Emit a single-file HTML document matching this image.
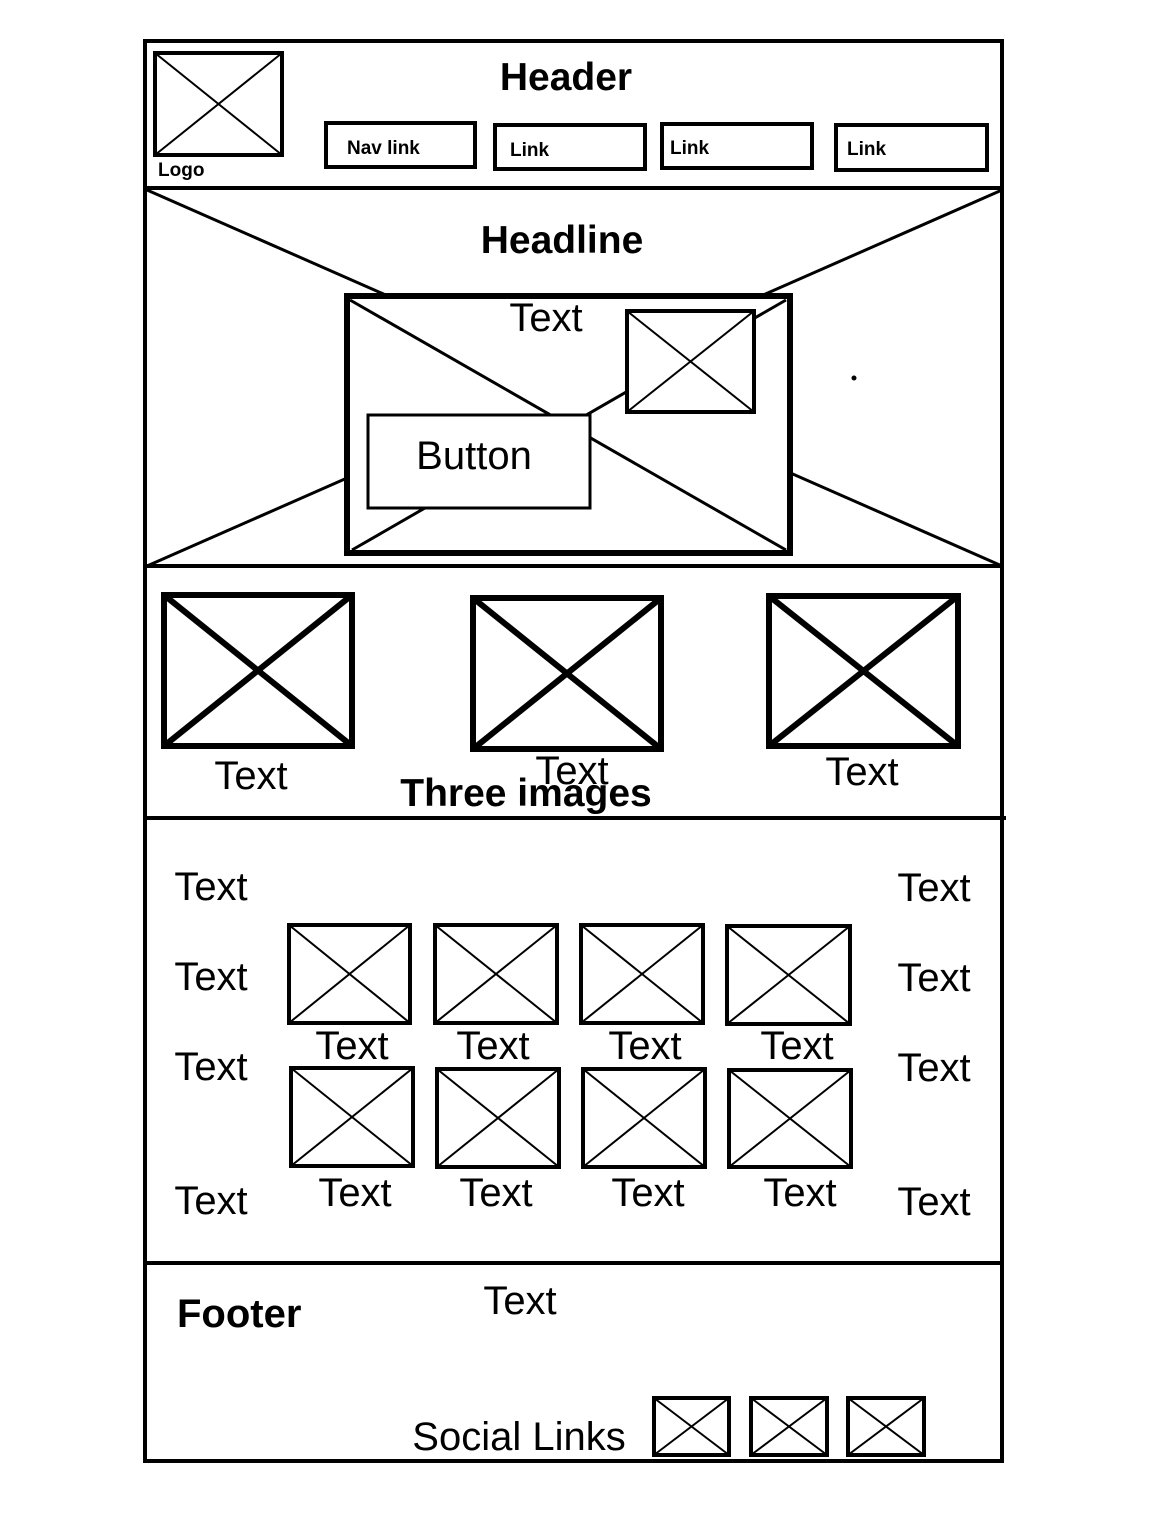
<!DOCTYPE html>
<html><head><meta charset="utf-8"><style>
html,body{margin:0;padding:0;background:#fff;}
svg{display:block;}
text{font-family:"Liberation Sans",Arial,sans-serif;fill:#000;}
</style></head><body>
<svg width="1164" height="1518" viewBox="0 0 1164 1518" xmlns="http://www.w3.org/2000/svg">
<rect x="0" y="0" width="1164" height="1518" fill="#fff"/>
<g fill="none" stroke="#000">
<rect x="145" y="41" width="857" height="1420" stroke-width="4"/>
<line x1="145" y1="188" x2="1004" y2="188" stroke-width="4"/>
<line x1="145" y1="566" x2="1004" y2="566" stroke-width="4"/>
<line x1="145" y1="818" x2="1006" y2="818" stroke-width="4"/>
<line x1="145" y1="1263" x2="1002" y2="1263" stroke-width="4"/>
<rect x="155" y="53" width="127" height="102" stroke-width="4"/>
<line x1="155" y1="53" x2="282" y2="155" stroke-width="2"/>
<line x1="282" y1="53" x2="155" y2="155" stroke-width="2"/>
<rect x="326" y="123" width="149" height="44" stroke-width="4"/>
<rect x="495" y="125" width="150" height="44" stroke-width="4"/>
<rect x="662" y="124" width="150" height="44" stroke-width="4"/>
<rect x="836" y="125" width="151" height="45" stroke-width="4"/>
<line x1="147" y1="190" x2="1002" y2="566" stroke-width="3"/>
<line x1="1002" y1="190" x2="147" y2="566" stroke-width="3"/>
<rect x="347" y="296" width="443" height="257" stroke-width="6" fill="#fff"/>
<line x1="350" y1="300" x2="786" y2="550" stroke-width="3"/>
<line x1="786" y1="300" x2="352" y2="550" stroke-width="3"/>
<rect x="627" y="311" width="127" height="101" stroke-width="4" fill="#fff"/>
<line x1="627" y1="311" x2="754" y2="412" stroke-width="2"/>
<line x1="754" y1="311" x2="627" y2="412" stroke-width="2"/>
<rect x="368" y="415" width="222" height="93" stroke-width="3" fill="#fff"/>
<g stroke-width="6">
<rect x="164" y="595" width="188" height="151"/>
<line x1="164" y1="595" x2="352" y2="746"/><line x1="352" y1="595" x2="164" y2="746"/>
<rect x="473" y="598" width="188" height="151"/>
<line x1="473" y1="598" x2="661" y2="749"/><line x1="661" y1="598" x2="473" y2="749"/>
<rect x="769" y="596" width="189" height="150"/>
<line x1="769" y1="596" x2="958" y2="746"/><line x1="958" y1="596" x2="769" y2="746"/>
</g>
<g stroke-width="4">
<rect x="289" y="925" width="121" height="98"/><line x1="289" y1="925" x2="410" y2="1023" stroke-width="2"/><line x1="410" y1="925" x2="289" y2="1023" stroke-width="2"/>
<rect x="435" y="925" width="122" height="98"/><line x1="435" y1="925" x2="557" y2="1023" stroke-width="2"/><line x1="557" y1="925" x2="435" y2="1023" stroke-width="2"/>
<rect x="581" y="925" width="122" height="98"/><line x1="581" y1="925" x2="703" y2="1023" stroke-width="2"/><line x1="703" y1="925" x2="581" y2="1023" stroke-width="2"/>
<rect x="727" y="926" width="123" height="98"/><line x1="727" y1="926" x2="850" y2="1024" stroke-width="2"/><line x1="850" y1="926" x2="727" y2="1024" stroke-width="2"/>
<rect x="291" y="1068" width="122" height="98"/><line x1="291" y1="1068" x2="413" y2="1166" stroke-width="2"/><line x1="413" y1="1068" x2="291" y2="1166" stroke-width="2"/>
<rect x="437" y="1069" width="122" height="98"/><line x1="437" y1="1069" x2="559" y2="1167" stroke-width="2"/><line x1="559" y1="1069" x2="437" y2="1167" stroke-width="2"/>
<rect x="583" y="1069" width="122" height="98"/><line x1="583" y1="1069" x2="705" y2="1167" stroke-width="2"/><line x1="705" y1="1069" x2="583" y2="1167" stroke-width="2"/>
<rect x="729" y="1070" width="122" height="97"/><line x1="729" y1="1070" x2="851" y2="1167" stroke-width="2"/><line x1="851" y1="1070" x2="729" y2="1167" stroke-width="2"/>
</g>
<g stroke-width="4">
<rect x="654" y="1398" width="75" height="57"/><line x1="654" y1="1398" x2="729" y2="1455" stroke-width="2"/><line x1="729" y1="1398" x2="654" y2="1455" stroke-width="2"/>
<rect x="751" y="1398" width="76" height="57"/><line x1="751" y1="1398" x2="827" y2="1455" stroke-width="2"/><line x1="827" y1="1398" x2="751" y2="1455" stroke-width="2"/>
<rect x="848" y="1398" width="76" height="57"/><line x1="848" y1="1398" x2="924" y2="1455" stroke-width="2"/><line x1="924" y1="1398" x2="848" y2="1455" stroke-width="2"/>
</g>
</g>
<circle cx="854" cy="378" r="2.5" fill="#000"/>
<g font-weight="bold">
<text x="158" y="176" font-size="19">Logo</text>
<text x="566" y="90" font-size="39" text-anchor="middle">Header</text>
<text x="347" y="154" font-size="19">Nav link</text>
<text x="510" y="156" font-size="19">Link</text>
<text x="670" y="154" font-size="19">Link</text>
<text x="847" y="155" font-size="19">Link</text>
<text x="562" y="253" font-size="39" text-anchor="middle">Headline</text>
<text x="526" y="806" font-size="39" text-anchor="middle">Three images</text>
<text x="177" y="1327" font-size="40">Footer</text>
</g>
<g font-size="40" text-anchor="middle">
<text x="546" y="331">Text</text>
<text x="474" y="469">Button</text>
<text x="251" y="789">Text</text>
<text x="572" y="784">Text</text>
<text x="862" y="785">Text</text>
<text x="211" y="900">Text</text><text x="211" y="990">Text</text><text x="211" y="1080">Text</text><text x="211" y="1214">Text</text>
<text x="934" y="901">Text</text><text x="934" y="991">Text</text><text x="934" y="1081">Text</text><text x="934" y="1215">Text</text>
<text x="352" y="1059">Text</text><text x="493" y="1059">Text</text><text x="645" y="1059">Text</text><text x="797" y="1059">Text</text>
<text x="355" y="1206">Text</text><text x="496" y="1206">Text</text><text x="648" y="1206">Text</text><text x="800" y="1206">Text</text>
<text x="520" y="1314">Text</text>
<text x="519" y="1450">Social Links</text>
</g>
</svg>
</body></html>
